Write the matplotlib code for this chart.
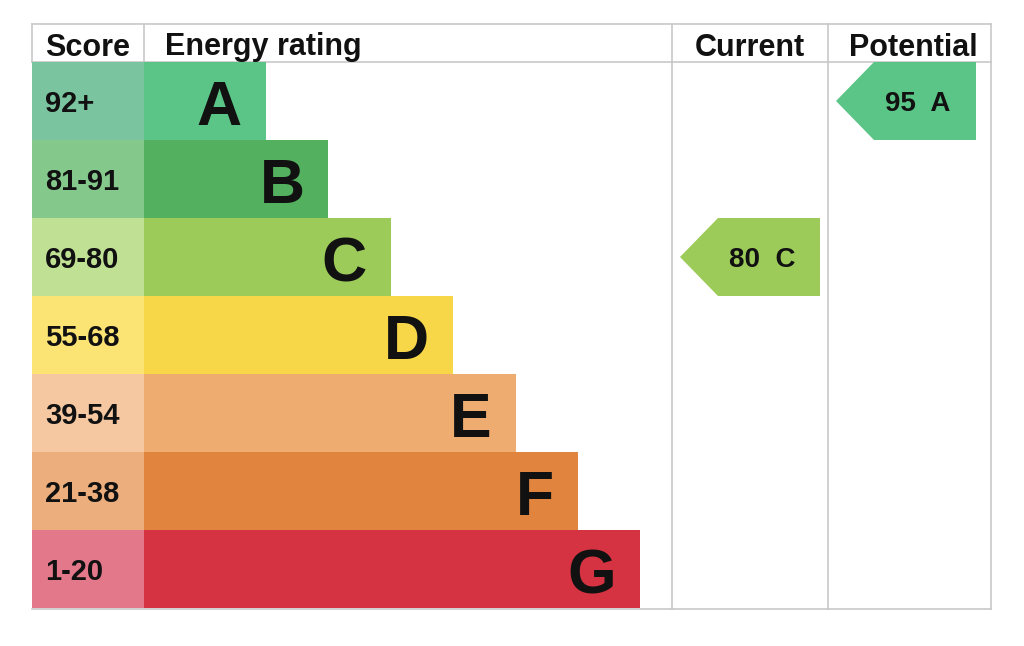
import matplotlib
matplotlib.use('Agg')
import matplotlib.pyplot as plt
from matplotlib.patches import Polygon

# EPC bands
bands = ['A', 'B', 'C', 'D', 'E', 'F', 'G']
score_ranges = ['92+', '81-91', '69-80', '55-68', '39-54', '21-38', '1-20']
band_min = [92, 81, 69, 55, 39, 21, 1]
band_colors = ['#5bc587', '#52b05e', '#9dcb5a', '#f7d648', '#efac70', '#e0843e', '#d53342']
score_colors = ['#7ac4a0', '#84c88c', '#c0e094', '#fce474', '#f5c8a2', '#ecae7c', '#e2788a']

current_score = 80
potential_score = 95

headers = ['Score', 'Energy rating', 'Current', 'Potential']

# layout (pixels)
W, H = 1024, 646
x_left, x_score, x_cur, x_pot, x_right = 32, 144, 672, 828, 991
y_top, y_head = 24, 62
row_h = 78
bar0, bar_step = 122, 62.4
grid_col = '#c8c8c8'
font = ['Liberation Sans', 'DejaVu Sans']


def band_of(score):
    for i, lo in enumerate(band_min):
        if score >= lo:
            return i
    return len(bands) - 1


fig = plt.figure(figsize=(W / 100, H / 100), dpi=100, facecolor='w')
ax = fig.add_axes([0, 0, 1, 1])
ax.set_xlim(0, W)
ax.set_ylim(H, 0)
ax.set_axis_off()

n = len(bands)
y_bottom = y_head + n * row_h
centers = [y_head + row_h * (i + 0.5) for i in range(n)]
lengths = [bar0 + bar_step * i for i in range(n)]

# grid lines
ax.plot([x_left, x_right], [y_top, y_top], color=grid_col, lw=1.2, zorder=1)
ax.plot([x_left, x_right], [y_head, y_head], color=grid_col, lw=1.2, zorder=1)
ax.plot([x_left, x_right], [y_bottom + 1, y_bottom + 1], color=grid_col, lw=1.2, zorder=1)
for xv in [x_left, x_score]:
    ax.plot([xv, xv], [y_top, y_head], color=grid_col, lw=1.2, zorder=1)
for xv in [x_cur, x_pot, x_right]:
    ax.plot([xv, xv], [y_top, y_bottom + 1], color=grid_col, lw=1.2, zorder=1)

# score cells and rating bars
ax.barh(centers, [x_score - x_left] * n, left=x_left, height=row_h,
        color=score_colors, zorder=2)
ax.barh(centers, lengths, left=x_score, height=row_h, color=band_colors, zorder=2)

for i in range(n):
    ax.text(x_left + 13, centers[i], score_ranges[i], ha='left', va='center_baseline',
            fontsize=21, fontweight='bold', family=font, color='#111111', zorder=3)
    ax.text(x_score + lengths[i] - 24, centers[i] + 1, bands[i], ha='right',
            va='center_baseline', fontsize=45, fontweight='bold', family=font,
            color='#111111', zorder=3)

# headers
head_y = (y_top + y_head) / 2 + 1
hkw = dict(va='center_baseline', fontsize=22, fontweight='bold', family=font, color='#111111')
ax.text((x_left + x_score) / 2, head_y, headers[0], ha='center', **hkw)
ax.text(x_score + 21, head_y, headers[1], ha='left', **hkw)
ax.text((x_cur + x_pot) / 2, head_y, headers[2], ha='center', **hkw)
ax.text((x_pot + x_right) / 2 + 4, head_y, headers[3], ha='center', **hkw)


def arrow(col_left, score):
    i = band_of(score)
    top = y_head + row_h * i
    bot = top + row_h
    mid = (top + bot) / 2
    tip = col_left + 8
    body = tip + 38
    right = col_left + 148
    pts = [(tip, mid), (body, top), (right, top), (right, bot), (body, bot)]
    ax.add_patch(Polygon(pts, closed=True, facecolor=band_colors[i],
                         edgecolor='none', zorder=2))
    ax.text(tip + 82, mid, f'{score}  {bands[i]}', ha='center', va='center_baseline',
            fontsize=20, fontweight='bold', family=font, color='#111111', zorder=3)


arrow(x_cur, current_score)
arrow(x_pot, potential_score)

fig.savefig('out.png', dpi=100, facecolor='w')
